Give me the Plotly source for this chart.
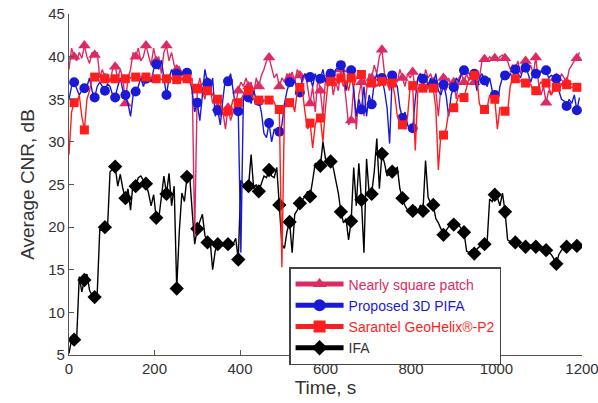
import plotly.graph_objects as go

# Time samples (s)
TIME = list(range(0, 1200, 6))

PATCH = [
    38.5, 41.0, 40.0, 39.5, 40.5, 39.8, 41.3, 40.0, 39.2, 40.5,
    40.2, 40.5, 37.5, 38.5, 37.5, 38.0, 37.0, 38.5, 38.8, 37.5,
    38.5, 37.5, 34.5, 37.5, 38.5, 40.5, 40.0, 41.0, 39.5, 40.0,
    41.3, 40.0, 39.0, 41.0, 39.5, 40.0, 38.0, 40.5, 41.3, 39.5,
    40.5, 39.0, 38.5, 38.8, 38.0, 38.5, 37.5, 37.0, 37.5, 19.0,
    36.0, 37.5, 36.0, 35.0, 37.0, 36.5, 34.5, 35.5, 34.0, 33.0,
    33.5, 31.5, 34.0, 32.5, 33.5, 34.5, 36.0, 37.0, 36.5, 37.5,
    36.5, 37.0, 35.5, 37.5, 36.5, 37.8, 38.5, 39.5, 39.9, 38.5,
    37.5, 38.0, 36.5, 37.5, 37.0, 38.0, 37.5, 38.2, 37.0, 38.5,
    37.8, 37.0, 38.0, 36.5, 34.5, 36.5, 33.5, 37.5, 36.0, 33.0,
    37.5, 36.5, 38.0, 35.5, 37.0, 36.0, 38.5, 37.5, 35.0, 32.0,
    32.5, 36.5, 31.5, 35.5, 37.0, 33.0, 36.0, 38.0, 37.5, 39.0,
    38.0, 40.0, 40.8, 38.0, 37.0, 36.0, 37.5, 38.0, 37.0, 38.5,
    37.5, 36.5, 38.0, 37.5, 38.2, 36.0, 37.5, 38.0, 36.5, 38.5,
    37.5, 38.0, 37.0, 36.0, 33.0, 36.5, 37.5, 36.0, 37.5, 36.5,
    37.0, 35.0, 37.5, 38.0, 37.0, 38.0, 37.2, 37.8, 37.0, 38.0,
    37.5, 39.5, 39.7, 39.5, 40.0, 39.6, 39.8, 39.5, 40.0, 40.2,
    39.8, 39.5, 38.5, 39.0, 38.5, 39.5, 38.0, 39.0, 39.5, 38.5,
    39.0, 38.0, 39.9, 37.0, 35.5, 36.5, 34.6, 36.0, 35.5, 36.5,
    37.5, 37.0, 38.0, 37.5, 37.0, 38.5, 39.0, 39.5, 39.8, 40.5,
]

PIFA = [
    35.0, 36.5, 37.0, 36.2, 35.5, 36.0, 36.3, 36.5, 37.5, 36.0,
    35.2, 36.5, 37.0, 36.5, 36.0, 36.8, 36.5, 35.5, 35.2, 36.5,
    37.5, 36.0, 35.5, 34.5, 33.0, 35.5, 35.9, 36.5, 37.5, 36.5,
    37.4, 38.0, 37.0, 38.5, 39.1, 38.5, 39.6, 37.5, 35.5, 37.5,
    38.5, 37.5, 38.0, 37.0, 38.2, 37.5, 38.1, 37.5, 36.0, 33.5,
    34.6, 32.5, 35.5, 38.5, 36.9, 35.5, 37.5, 33.0, 33.7, 32.0,
    35.0, 37.5, 37.1, 38.0, 36.0, 34.0, 33.6, 17.0, 35.5, 36.0,
    35.2, 34.5, 36.0, 35.0, 34.8, 33.5, 31.0, 30.5, 32.2, 30.0,
    31.5, 31.2, 31.2, 32.0, 34.5, 36.0, 37.0, 36.5, 37.2, 36.0,
    35.8, 37.5, 38.0, 37.0, 37.6, 36.5, 38.0, 37.0, 37.4, 38.5,
    37.0, 38.5, 38.0, 37.5, 38.5, 38.8, 39.0, 38.5, 36.0, 37.5,
    38.4, 36.0, 33.0, 35.0, 33.8, 36.5, 33.0, 35.5, 34.4, 37.0,
    38.0, 36.5, 37.5, 36.0, 34.0, 29.8, 37.8, 37.0, 36.5, 34.0,
    32.8, 33.5, 32.0, 31.2, 31.6, 35.0, 37.5, 38.0, 37.4, 37.8,
    36.5, 37.5, 36.8, 38.0, 36.0, 35.5, 36.7, 35.5, 33.0, 35.5,
    36.4, 37.5, 37.0, 38.0, 38.4, 38.2, 38.0, 37.5, 38.0, 36.0,
    37.5, 38.0, 37.2, 36.5, 37.5, 36.0, 35.5, 34.5, 36.5, 37.5,
    37.8, 37.5, 38.0, 37.5, 38.5, 38.0, 37.5, 38.5, 38.7, 38.0,
    37.0, 38.0, 38.0, 37.5, 38.3, 38.0, 38.4, 37.5, 37.8, 37.6,
    37.4, 36.0, 35.0, 34.8, 34.2, 35.0, 34.5, 35.5, 33.7, 35.2,
]

SARANTEL = [
    28.5, 33.5, 34.6, 34.5, 35.5, 33.0, 31.4, 35.0, 36.0, 37.5,
    37.6, 37.5, 37.6, 37.3, 37.4, 37.5, 37.2, 37.5, 37.4, 37.6,
    37.3, 37.5, 37.4, 37.6, 37.5, 37.7, 37.6, 37.5, 37.7, 37.5,
    37.6, 37.5, 37.4, 37.6, 37.4, 37.5, 37.3, 37.5, 37.4, 37.2,
    37.5, 37.0, 37.3, 37.0, 37.5, 37.3, 37.4, 37.0, 36.5, 36.0,
    36.3, 36.5, 35.8, 36.3, 36.0, 36.2, 35.5, 35.2, 35.0, 34.5,
    33.5, 33.0, 33.6, 33.8, 35.0, 34.5, 34.6, 35.0, 35.5, 36.2,
    36.0, 35.5, 35.0, 34.8, 34.9, 35.0, 34.8, 35.0, 34.9, 35.0,
    34.7, 33.8, 33.8, 15.3, 34.0, 34.5, 34.6, 34.8, 33.5, 36.0,
    36.4, 36.0, 33.5, 31.5, 32.2, 29.3, 32.0, 33.0, 32.8, 30.0,
    34.0, 37.0, 37.1, 36.5, 37.5, 36.8, 37.5, 36.5, 37.2, 36.0,
    37.5, 36.5, 37.5, 38.0, 37.9, 37.5, 36.5, 37.0, 36.9, 37.2,
    36.5, 37.0, 37.1, 36.8, 37.0, 36.5, 36.9, 35.5, 33.0, 32.5,
    32.0, 31.5, 33.0, 36.5, 36.6, 29.0, 36.0, 36.5, 36.3, 36.0,
    36.5, 36.2, 36.3, 34.0, 26.7, 31.0, 30.8, 31.5, 33.5, 34.0,
    34.0, 34.5, 35.5, 35.0, 35.2, 36.5, 37.5, 37.8, 37.8, 37.5,
    34.5, 33.8, 33.8, 34.0, 35.5, 35.0, 35.0, 31.5, 34.0, 33.8,
    33.6, 33.5, 36.5, 37.5, 37.4, 37.0, 37.2, 36.8, 36.9, 36.5,
    36.8, 36.0, 36.0, 36.5, 37.0, 36.8, 36.9, 36.5, 35.5, 36.0,
    36.4, 36.0, 36.8, 36.5, 36.7, 36.5, 36.4, 36.3, 36.4, 36.5,
]

IFA = [
    5.2, 6.8, 6.8, 7.0, 14.2, 12.4, 13.8, 14.5, 12.6, 12.0,
    11.8, 12.2, 19.7, 19.6, 20.0, 19.8, 26.5, 26.8, 27.1, 24.8,
    26.2, 24.5, 23.4, 24.5, 22.0, 25.3, 24.8, 25.8, 26.0, 25.5,
    25.1, 24.0, 22.5, 23.8, 21.1, 21.0, 23.5, 26.0, 23.9, 26.3,
    22.5, 24.8, 12.8, 19.5, 24.0, 23.0, 25.9, 26.2, 22.0, 18.0,
    19.8, 20.8, 21.5, 19.0, 18.2, 18.5, 15.0, 17.2, 18.0, 18.2,
    17.8, 18.0, 18.0, 18.2, 18.0, 18.7, 16.2, 25.5, 25.0, 24.5,
    24.8, 28.5, 24.5, 25.0, 24.2, 25.2, 26.0, 25.8, 26.7, 26.0,
    25.8, 27.0, 22.6, 18.0, 17.5, 19.5, 20.6, 17.0, 21.5, 22.0,
    22.8, 23.2, 23.6, 24.2, 23.6, 25.5, 27.5, 27.0, 27.2, 30.0,
    28.0, 27.8, 27.7, 27.0, 25.5, 24.0, 21.8, 20.5, 21.0, 18.5,
    20.7, 27.0, 22.5, 27.5, 23.2, 17.0, 28.0, 24.0, 23.9, 26.5,
    30.4, 24.5, 28.6, 27.5, 26.0, 26.3, 26.5, 26.8, 27.0, 24.5,
    23.4, 22.5, 22.0, 22.2, 21.9, 22.4, 21.8, 22.6, 21.9, 27.8,
    23.5, 22.8, 22.6, 21.0, 20.5, 19.8, 19.1, 19.6, 20.0, 20.5,
    20.3, 20.6, 20.2, 19.8, 19.4, 17.2, 17.0, 17.3, 16.9, 17.4,
    17.7, 17.8, 18.0, 18.2, 23.3, 23.0, 23.8, 23.5, 22.5, 24.0,
    21.8, 18.5, 18.3, 18.0, 18.2, 18.0, 17.6, 17.8, 17.7, 17.6,
    17.9, 17.5, 17.7, 17.8, 17.5, 17.2, 17.3, 17.0, 16.8, 16.3,
    15.7, 16.8, 17.3, 17.5, 17.7, 17.5, 17.6, 17.9, 17.8, 17.7,
]

SERIES_NAMES = ["Nearly square patch", "Proposed 3D PIFA",
                "Sarantel GeoHelix®-P2", "IFA"]

FONT = "Liberation Sans, Arial, sans-serif"

styles = {
    "Nearly square patch": dict(color="#DE2A62", symbol="triangle-up", data=PATCH, size=11),
    "Proposed 3D PIFA": dict(color="#1A1AD6", symbol="circle", data=PIFA, size=10),
    "Sarantel GeoHelix®-P2": dict(color="#FF1E1E", symbol="square", data=SARANTEL, size=9),
    "IFA": dict(color="#000000", symbol="diamond", data=IFA, size=11),
}

fig = go.Figure()

# plotting order: IFA at bottom, then patch, PIFA, Sarantel on top
for name in ["IFA", "Nearly square patch", "Proposed 3D PIFA", "Sarantel GeoHelix®-P2"]:
    s = styles[name]
    sizes = [s["size"] if (i % 4 == 2) else 0 for i in range(len(TIME))]
    fig.add_trace(go.Scatter(
        x=TIME, y=s["data"], mode="lines+markers", name=name,
        line=dict(color=s["color"], width=1.4),
        marker=dict(color=s["color"], symbol=s["symbol"], size=sizes,
                    opacity=1, line=dict(width=0)),
        showlegend=False, hoverinfo="skip",
    ))

legend_text_colors = {
    "Nearly square patch": "#DE2A62",
    "Proposed 3D PIFA": "#1A1AD6",
    "Sarantel GeoHelix®-P2": "#FF1E1E",
    "IFA": "#333333",
}
for rank, name in enumerate(SERIES_NAMES):
    s = styles[name]
    fig.add_trace(go.Scatter(
        x=[None], y=[None], mode="lines+markers",
        name=f'<span style="color:{legend_text_colors[name]}">{name}</span>',
        line=dict(color=s["color"], width=1.4),
        marker=dict(color=s["color"], symbol=s["symbol"], size=s["size"],
                    opacity=1, line=dict(width=0)),
        legendrank=rank + 1,
    ))

axis_common = dict(
    showline=True, linecolor="#555555", linewidth=1.3,
    ticks="inside", ticklen=5, tickcolor="#555555", tickwidth=1.3,
    showgrid=False, zeroline=False, mirror=False, automargin=False,
    ticklabeloverflow="allow",
    tickfont=dict(family=FONT, size=15, color="#333333"),
)

fig.update_layout(
    width=598, height=403,
    margin=dict(l=69, r=16, t=14, b=48),
    paper_bgcolor="white", plot_bgcolor="white",
    font=dict(family=FONT, color="#333333"),
    xaxis=dict(range=[0, 1200], tickvals=[0, 200, 400, 600, 800, 1000, 1200],
               title=dict(text="Time, s", font=dict(family=FONT, size=19, color="#333333"),
                          standoff=2),
               **axis_common),
    yaxis=dict(range=[5, 45], tickvals=[5, 10, 15, 20, 25, 30, 35, 40, 45],
               title=dict(text="Average CNR, dB", font=dict(family=FONT, size=19, color="#333333"),
                          standoff=8),
               **axis_common),
    legend=dict(
        x=0.429, y=0.258, xanchor="left", yanchor="top",
        bgcolor="white", bordercolor="#444444", borderwidth=1.5,
        font=dict(family=FONT, size=14), itemwidth=48,
        tracegroupgap=0, itemsizing="constant",
    ),
    showlegend=True,
)

# remove the default page margin so the 598x403 figure fills the window exactly
fig.write_html("out.html", config={"displayModeBar": False},
               post_script="document.body.style.margin='0';")
